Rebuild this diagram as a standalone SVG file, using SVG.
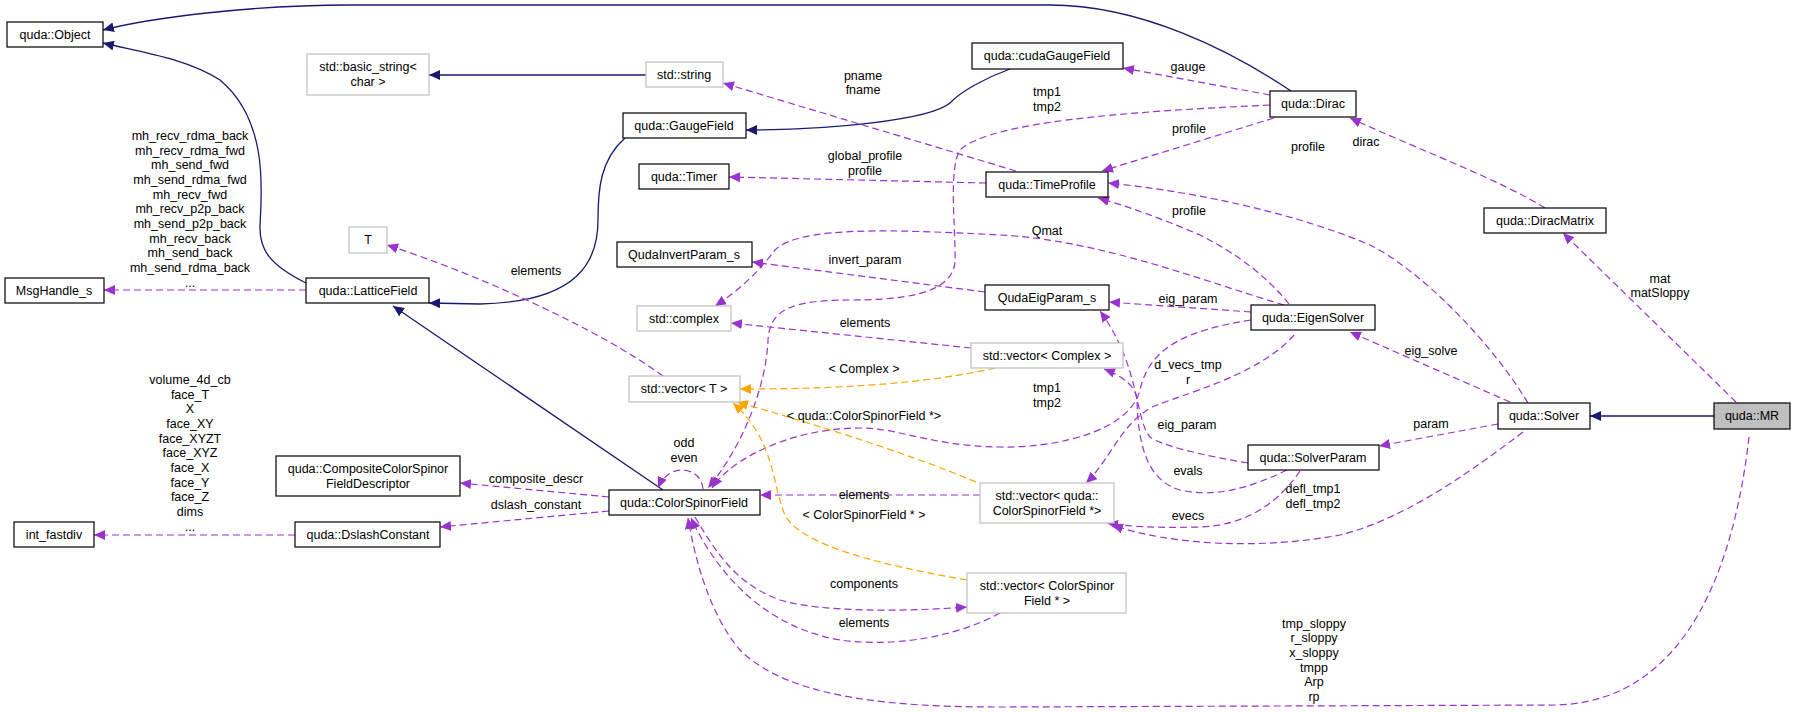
<svg xmlns="http://www.w3.org/2000/svg" width="1796" height="712" viewBox="0 0 1796 712">
<style>
text{font-family:"Liberation Sans",Arial,sans-serif;font-size:12.5px;fill:#000;text-anchor:middle}
.n rect{fill:#fff;stroke:#000;stroke-width:1.2}
.g rect{fill:#fff;stroke:#bfbfbf;stroke-width:1.2}
.inh{fill:none;stroke:#191970;stroke-width:1.3}
.use{fill:none;stroke:#9a32cd;stroke-width:1.2;stroke-dasharray:7,4}
.tpl{fill:none;stroke:#ffa500;stroke-width:1.2;stroke-dasharray:7,4}
</style>
<defs>
<marker id="an" markerUnits="userSpaceOnUse" markerWidth="12" markerHeight="10" refX="11" refY="5" orient="auto"><path d="M0,0L11,5L0,10z" fill="#191970"/></marker>
<marker id="ap" markerUnits="userSpaceOnUse" markerWidth="12" markerHeight="10" refX="11" refY="5" orient="auto"><path d="M0,0L11,5L0,10z" fill="#9a32cd"/></marker>
<marker id="ao" markerUnits="userSpaceOnUse" markerWidth="12" markerHeight="10" refX="11" refY="5" orient="auto"><path d="M0,0L11,5L0,10z" fill="#ffa500"/></marker>
</defs>
<g id="connectors">
<path class="inh" marker-end="url(#an)" d="M1291,91 C1230,50 1140,5 1050,5 L350,5 C250,5 150,18 103,30"/>
<path class="inh" marker-end="url(#an)" d="M306,283 C270,265 259,250 260,225 C262,190 268,120 220,80 C185,58 140,52 103,43"/>
<path class="inh" marker-end="url(#an)" d="M625,138 C600,160 598,190 598,220 C598,260 580,302 480,304 L429,303"/>
<path class="inh" marker-end="url(#an)" d="M1010,69 C985,78 960,92 950,103 C930,120 830,130 746,130"/>
<path class="inh" marker-end="url(#an)" d="M646,75 L429,75"/>
<path class="inh" marker-end="url(#an)" d="M663,490 L393,306"/>
<path class="inh" marker-end="url(#an)" d="M1714,416 L1590,416"/>
<path class="use" marker-end="url(#ap)" d="M306,290 L104,290"/>
<path class="use" marker-end="url(#ap)" d="M295,535 L94,535"/>
<path class="use" marker-end="url(#ap)" d="M609,497 L460,483"/>
<path class="use" marker-end="url(#ap)" d="M609,511 L440,527"/>
<path class="use" marker-end="url(#ap)" d="M703,489 C702,468 670,460 658,488"/>
<path class="use" marker-end="url(#ap)" d="M1270,105 C1120,112 990,122 960,150 C948,170 956,230 955,262 C952,295 900,300 850,300 C790,300 770,310 768,340 C766,390 740,450 708,488"/>
<path class="use" marker-end="url(#ap)" d="M1251,320 C1190,330 1150,345 1140,390 C1130,430 1060,448 1000,447 C930,446 900,428 860,428 C790,428 730,460 712,488"/>
<path class="use" marker-end="url(#ap)" d="M980,495 L760,495"/>
<path class="use" marker-end="url(#ap)" d="M695,517 C720,560 740,585 780,600 C820,612 900,612 967,607"/>
<path class="use" marker-end="url(#ap)" d="M1000,613 C960,635 900,648 840,640 C770,628 720,580 691,518"/>
<path class="use" marker-end="url(#ap)" d="M1749,437 C1735,560 1690,700 1558,705 L1000,707 C900,707 790,700 740,650 C710,615 695,560 688,518"/>
<path class="use" marker-end="url(#ap)" d="M663,376 C600,330 480,275 387,245"/>
<path class="tpl" marker-end="url(#ao)" d="M995,368 C920,385 830,389 740,389"/>
<path class="tpl" marker-end="url(#ao)" d="M976,482 C900,450 800,420 737,402"/>
<path class="tpl" marker-end="url(#ao)" d="M967,580 C880,565 800,545 785,515 C772,485 775,440 733,403"/>
<path class="use" marker-end="url(#ap)" d="M971,348 L731,323"/>
<path class="use" marker-end="url(#ap)" d="M1284,305 C1200,280 1100,240 1000,235 C900,230 800,225 775,250 C760,270 740,290 715,306"/>
<path class="use" marker-end="url(#ap)" d="M985,292 L752,262"/>
<path class="use" marker-end="url(#ap)" d="M1251,312 L1109,302"/>
<path class="use" marker-end="url(#ap)" d="M1248,463 C1200,455 1160,445 1150,437 C1135,420 1140,365 1100,311"/>
<path class="use" marker-end="url(#ap)" d="M1294,335 C1260,375 1180,395 1152,407 C1120,425 1110,460 1086,483"/>
<path class="use" marker-end="url(#ap)" d="M1287,470 C1250,488 1215,498 1180,490 C1145,480 1138,440 1137,400 C1136,385 1120,375 1104,369"/>
<path class="use" marker-end="url(#ap)" d="M1300,471 C1280,500 1250,525 1200,527 C1160,528 1130,527 1107,523"/>
<path class="use" marker-end="url(#ap)" d="M1523,432 C1460,480 1400,520 1340,535 C1260,550 1170,545 1112,525"/>
<path class="use" marker-end="url(#ap)" d="M1498,424 L1379,446"/>
<path class="use" marker-end="url(#ap)" d="M1510,402 L1350,332"/>
<path class="use" marker-end="url(#ap)" d="M1528,403 C1490,340 1420,270 1370,245 C1300,215 1200,192 1108,183"/>
<path class="use" marker-end="url(#ap)" d="M1289,304 C1270,280 1240,255 1200,235 C1160,218 1130,207 1098,198"/>
<path class="use" marker-end="url(#ap)" d="M1274,118 L1102,171"/>
<path class="use" marker-end="url(#ap)" d="M1270,95 L1123,68"/>
<path class="use" marker-end="url(#ap)" d="M1016,171 L723,83"/>
<path class="use" marker-end="url(#ap)" d="M986,183 L729,177"/>
<path class="use" marker-end="url(#ap)" d="M1545,208 C1500,180 1420,150 1350,118"/>
<path class="use" marker-end="url(#ap)" d="M1736,402 L1563,233"/>
<text x="190" y="140">mh_recv_rdma_back</text><text x="190" y="155">mh_recv_rdma_fwd</text><text x="190" y="169">mh_send_fwd</text><text x="190" y="184">mh_send_rdma_fwd</text><text x="190" y="199">mh_recv_fwd</text><text x="190" y="213">mh_recv_p2p_back</text><text x="190" y="228">mh_send_p2p_back</text><text x="190" y="243">mh_recv_back</text><text x="190" y="257">mh_send_back</text><text x="190" y="272">mh_send_rdma_back</text><text x="190" y="287">...</text>
<text x="190" y="384">volume_4d_cb</text><text x="190" y="399">face_T</text><text x="190" y="413">X</text><text x="190" y="428">face_XY</text><text x="190" y="443">face_XYZT</text><text x="190" y="457">face_XYZ</text><text x="190" y="472">face_X</text><text x="190" y="487">face_Y</text><text x="190" y="501">face_Z</text><text x="190" y="516">dims</text><text x="190" y="531">...</text>
<text x="684" y="447">odd</text><text x="684" y="462">even</text>
<text x="536" y="483">composite_descr</text>
<text x="536" y="509">dslash_constant</text>
<text x="864" y="373">&lt; Complex &gt;</text>
<text x="864" y="420">&lt; quda::ColorSpinorField *&gt;</text>
<text x="864" y="499">elements</text>
<text x="864" y="519">&lt; ColorSpinorField * &gt;</text>
<text x="864" y="588">components</text>
<text x="864" y="627">elements</text>
<text x="536" y="275">elements</text>
<text x="863" y="80">pname</text><text x="863" y="94">fname</text>
<text x="1188" y="71">gauge</text>
<text x="1047" y="96">tmp1</text><text x="1047" y="111">tmp2</text>
<text x="1189" y="133">profile</text>
<text x="865" y="160">global_profile</text><text x="865" y="175">profile</text>
<text x="1189" y="215">profile</text>
<text x="1047" y="235">Qmat</text>
<text x="865" y="264">invert_param</text>
<text x="1188" y="303">eig_param</text>
<text x="865" y="327">elements</text>
<text x="1660" y="283">mat</text><text x="1660" y="297">matSloppy</text>
<text x="1188" y="369">d_vecs_tmp</text><text x="1188" y="384">r</text>
<text x="1047" y="392">tmp1</text><text x="1047" y="407">tmp2</text>
<text x="1431" y="355">eig_solve</text>
<text x="1187" y="429">eig_param</text>
<text x="1431" y="428">param</text>
<text x="1188" y="475">evals</text>
<text x="1313" y="493">defl_tmp1</text><text x="1313" y="508">defl_tmp2</text>
<text x="1188" y="520">evecs</text>
<text x="1308" y="151">profile</text>
<text x="1366" y="146">dirac</text>
<text x="1314" y="628">tmp_sloppy</text><text x="1314" y="642">r_sloppy</text><text x="1314" y="657">x_sloppy</text><text x="1314" y="672">tmpp</text><text x="1314" y="686">Arp</text><text x="1314" y="701">rp</text>
</g>
<g id="Object" class="n"><rect x="7" y="22" width="96" height="25"/><text x="55" y="39">quda::Object</text></g>
<g id="basic_string" class="g"><rect x="307" y="54" width="122" height="41"/><text x="368" y="71">std::basic_string&lt;</text><text x="368" y="86">char &gt;</text></g>
<g id="string" class="g"><rect x="646" y="62" width="77" height="25"/><text x="684" y="79">std::string</text></g>
<g id="GaugeField" class="n"><rect x="623" y="113" width="123" height="25"/><text x="684" y="130">quda::GaugeField</text></g>
<g id="Timer" class="n"><rect x="639" y="164" width="90" height="25"/><text x="684" y="181">quda::Timer</text></g>
<g id="QudaInvertParam_s" class="n"><rect x="617" y="242" width="135" height="25"/><text x="684" y="259">QudaInvertParam_s</text></g>
<g id="complex" class="g"><rect x="637" y="306" width="94" height="25"/><text x="684" y="323">std::complex</text></g>
<g id="MsgHandle_s" class="n"><rect x="5" y="278" width="99" height="25"/><text x="54" y="295">MsgHandle_s</text></g>
<g id="LatticeField" class="n"><rect x="306" y="278" width="123" height="25"/><text x="368" y="295">quda::LatticeField</text></g>
<g id="T" class="g"><rect x="349" y="227" width="38" height="26"/><text x="368" y="244">T</text></g>
<g id="vectorT" class="g"><rect x="629" y="376" width="111" height="26"/><text x="684" y="393">std::vector&lt; T &gt;</text></g>
<g id="CompositeDesc" class="n"><rect x="276" y="456" width="184" height="40"/><text x="368" y="473">quda::CompositeColorSpinor</text><text x="368" y="488">FieldDescriptor</text></g>
<g id="ColorSpinorField" class="n"><rect x="609" y="490" width="151" height="25"/><text x="684" y="507">quda::ColorSpinorField</text></g>
<g id="DslashConstant" class="n"><rect x="295" y="522" width="145" height="25"/><text x="368" y="539">quda::DslashConstant</text></g>
<g id="int_fastdiv" class="n"><rect x="14" y="522" width="80" height="25"/><text x="54" y="539">int_fastdiv</text></g>
<g id="cudaGaugeField" class="n"><rect x="972" y="43" width="151" height="26"/><text x="1047" y="60">quda::cudaGaugeField</text></g>
<g id="Dirac" class="n"><rect x="1270" y="91" width="86" height="26"/><text x="1313" y="108">quda::Dirac</text></g>
<g id="TimeProfile" class="n"><rect x="986" y="172" width="122" height="25"/><text x="1047" y="189">quda::TimeProfile</text></g>
<g id="QudaEigParam_s" class="n"><rect x="985" y="285" width="124" height="25"/><text x="1047" y="302">QudaEigParam_s</text></g>
<g id="vectorComplex" class="g"><rect x="971" y="343" width="152" height="25"/><text x="1047" y="360">std::vector&lt; Complex &gt;</text></g>
<g id="vectorCSFp" class="g"><rect x="980" y="483" width="134" height="40"/><text x="1047" y="500">std::vector&lt; quda::</text><text x="1047" y="515">ColorSpinorField *&gt;</text></g>
<g id="vectorCSF" class="g"><rect x="967" y="573" width="159" height="40"/><text x="1047" y="590">std::vector&lt; ColorSpinor</text><text x="1047" y="605">Field * &gt;</text></g>
<g id="DiracMatrix" class="n"><rect x="1484" y="208" width="122" height="25"/><text x="1545" y="225">quda::DiracMatrix</text></g>
<g id="EigenSolver" class="n"><rect x="1251" y="305" width="124" height="25"/><text x="1313" y="322">quda::EigenSolver</text></g>
<g id="SolverParam" class="n"><rect x="1248" y="445" width="131" height="25"/><text x="1313" y="462">quda::SolverParam</text></g>
<g id="Solver" class="n"><rect x="1498" y="403" width="92" height="26"/><text x="1544" y="420">quda::Solver</text></g>
<g id="MR" class="n"><rect x="1714" y="403" width="76" height="26" style="fill:#bfbfbf"/><text x="1752" y="420">quda::MR</text></g>
</svg>
